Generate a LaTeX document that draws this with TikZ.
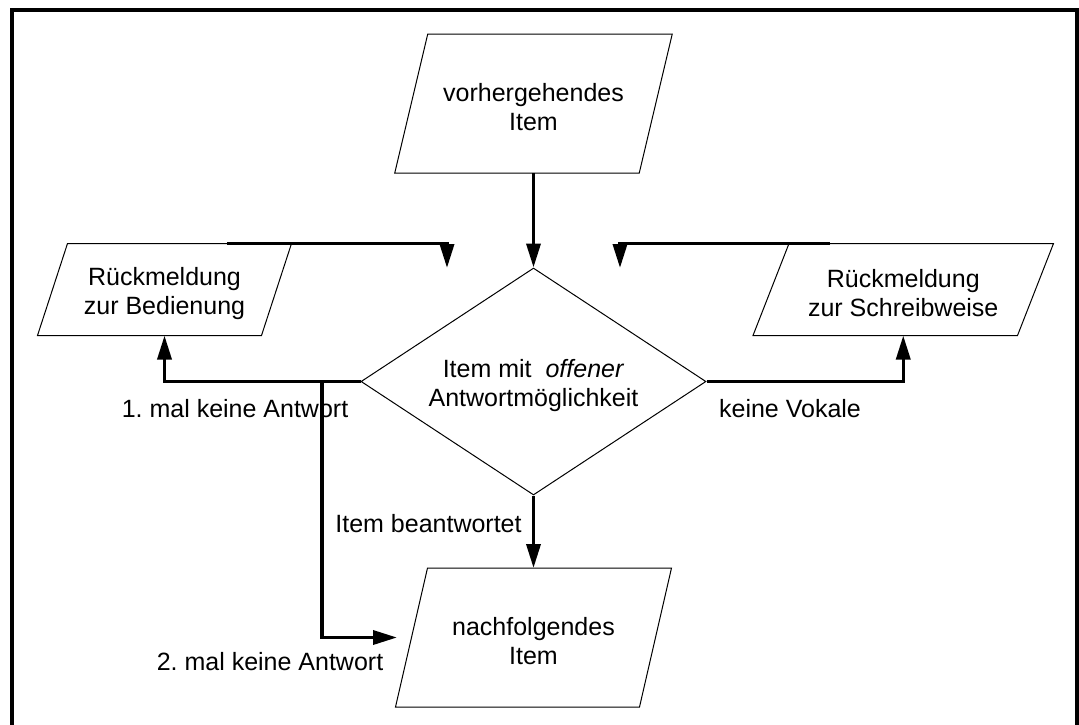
\documentclass[tikz,border=0pt]{standalone}
\usepackage{fontspec}
\setmainfont{Liberation Sans}
\usetikzlibrary{arrows.meta,shapes.geometric}
\frenchspacing

% outline of an input/output box: a parallelogram laid over a rectangular node
\newcommand\drawslanted[2]{%
  \draw[boxline] ([xshift=#2]#1.north west) -- ([xshift=#2]#1.north east)
    -- ([xshift=-#2]#1.south east) -- ([xshift=-#2]#1.south west) -- cycle;}
% invisible strut that lowers a two-line text block slightly
\newcommand\toppad{\rule{0pt}{26pt}}

\begin{document}
\begin{tikzpicture}[x=1pt,y=-1pt,
  every node/.style={font=\fontsize{25}{29}\selectfont},
  boxline/.style={line width=1pt,line join=miter},
  iobox/.style={draw=none,align=center,inner sep=0pt,outer sep=0pt},
  decision/.style={diamond,draw,line width=1pt,align=center,inner sep=0pt,
    minimum width=345pt,minimum height=227pt,aspect=1.52},
  flow/.style={line width=3.5pt,line join=miter,
    -{Triangle[length=24pt,width=14pt]}},
  lbl/.style={anchor=base,inner sep=0pt}]

\useasboundingbox (0,0) rectangle (1079,724);

% open frame (no bottom edge)
\draw[line width=4pt,line join=miter] (12,726) -- (12,10) -- (1077,10) -- (1077,726);

% boxes
\node[iobox,minimum width=244.5pt,minimum height=139pt] (prev) at (533.5,103.5)
  {\toppad vorhergehendes\\Item};
\drawslanted{prev}{16.5pt}

\node[iobox,minimum width=224pt,minimum height=92pt] (fbA) at (164.5,289.5)
  {\toppad Rückmeldung\\zur Bedienung};
\drawslanted{fbA}{15pt}

\node[iobox,minimum width=264.5pt,minimum height=92pt] (fbB) at (903.25,289.5)
  {\toppad Rückmeldung\\zur Schreibweise};
\drawslanted{fbB}{18pt}

\node[decision] (dec) at (533.5,381.5)
  {\toppad Item mit~ \textit{offener}\\Antwortmöglichkeit};

\node[iobox,minimum width=244pt,minimum height=139pt] (next) at (533.5,637.5)
  {\toppad nachfolgendes\\Item};
\drawslanted{next}{16pt}

% free ends of connectors
\coordinate (split) at (322,382);
\coordinate (nextin) at (397,637.5);
\coordinate (backAstart) at (227,243.5);
\coordinate (backAend) at (447,268);
\coordinate (backBstart) at (830,243.5);
\coordinate (backBend) at (620,268);

% connectors
\draw[flow] (prev.south) -- (dec.north);
\draw[flow] (dec.west) -| (fbA.south);
\draw[flow] (dec.east) -| (fbB.south);
\draw[flow] (split) |- (nextin);
\draw[flow] (dec.south) -- (next.north);
\draw[flow] (backAstart) -| (backAend);
\draw[flow] (backBstart) -| (backBend);

% connector labels
\node[lbl] (l1) at (235,417) {1. mal keine Antwort};
\node[lbl] (l2) at (790,417) {keine Vokale};
\node[lbl] (l3) at (428.5,532) {Item beantwortet};
\node[lbl] (l4) at (270,670) {2. mal keine Antwort};
\end{tikzpicture}
\end{document}
